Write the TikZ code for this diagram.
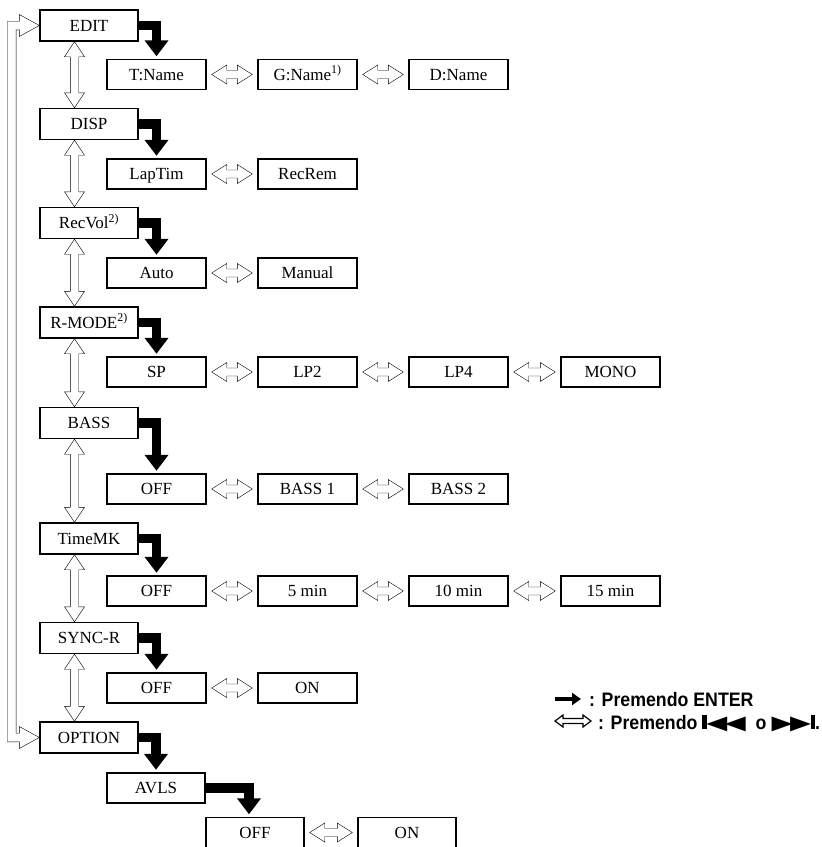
\documentclass[tikz,border=0pt]{standalone}
\usepackage{graphicx}
\usepackage{fontspec}
\setmainfont{Liberation Serif}
\newfontfamily\legendfont[FakeStretch=0.91]{Liberation Sans}
\newfontfamily\symfont{DejaVu Sans}
\usetikzlibrary{arrows.meta,calc}

% skip-back / skip-forward key symbols for the legend
\newcommand\prevsym{\rule{4.5pt}{14.5pt}\kern-0.5pt{\symfont\scalebox{1.4}[1]{◀}\kern-2.5pt\scalebox{1.4}[1]{◀}}}
\newcommand\nextsym{{\symfont\scalebox{1.4}[1]{▶}\kern-2.5pt\scalebox{1.4}[1]{▶}}\kern-0.5pt\rule{4.5pt}{14.5pt}}

\tikzset{
  menu/.style={draw, line width=1.4pt, minimum width=98pt, minimum height=31pt,
    inner sep=0pt, text height=11.3pt, text depth=0pt,
    font=\fontsize{17}{20}\selectfont},
  item/.style={menu, minimum width=99pt, minimum height=30pt},
  enter/.style={line width=9.5pt, line join=miter, shorten >=2.5pt,
    -{Triangle[length=16pt,width=23pt]}},
  % open vertical double arrow (start above target)
  vswap/.style={draw, line width=1.5pt, line join=miter,
    to path={let \p1=(\tikztostart), \p2=(\tikztotarget) in
      (\x1,\y1) -- (\x1+10pt,\y1-15pt) -- (\x1+4.2pt,\y1-15pt) -- (\x1+4.2pt,\y2+15pt)
      -- (\x1+10pt,\y2+15pt) -- (\x1,\y2) -- (\x1-10pt,\y2+15pt) -- (\x1-4.2pt,\y2+15pt)
      -- (\x1-4.2pt,\y1-15pt) -- (\x1-10pt,\y1-15pt) -- cycle}},
  % open horizontal double arrow between neighbouring items
  hswap/.style={draw, line width=1.5pt, line join=miter,
    to path={let \p1=(\tikztostart), \p2=(\tikztotarget) in
      (\x1+5pt,\y1) -- (\x1+20pt,\y1+9.5pt) -- (\x1+20pt,\y1+4pt) -- (\x2-20pt,\y1+4pt)
      -- (\x2-20pt,\y1+9.5pt) -- (\x2-5pt,\y1) -- (\x2-20pt,\y1-9.5pt) -- (\x2-20pt,\y1-4pt)
      -- (\x1+20pt,\y1-4pt) -- (\x1+20pt,\y1-9.5pt) -- cycle}},
  % open return loop from the last menu entry back to the first one
  loopswap/.style={draw, line width=1.4pt, line join=miter,
    to path={let \p1=(\tikztostart), \p2=(\tikztotarget) in
      (\x2,\y2) -- (\x2-20pt,\y2-11pt) -- (\x2-20pt,\y2-4.3pt) -- (\x2-23.2pt,\y2-4.3pt)
      -- (\x2-23.2pt,\y1+4.3pt) -- (\x2-20pt,\y1+4.3pt) -- (\x2-20pt,\y1+11pt)
      -- (\x2,\y1) -- (\x2-20pt,\y1-11pt) -- (\x2-20pt,\y1-4.3pt) -- (\x2-31.8pt,\y1-4.3pt)
      -- (\x2-31.8pt,\y2+4.3pt) -- (\x2-20pt,\y2+4.3pt) -- (\x2-20pt,\y2+11pt) -- cycle}},
  legend/.style={anchor=base west, inner sep=0pt,
    font=\fontsize{19.5}{22}\legendfont\bfseries}
}

\begin{document}
\begin{tikzpicture}[x=1pt, y=-1pt]
\useasboundingbox (0,0) rectangle (822,847);

% main menu column
\node[menu] (edit)   at (89,25.5)  {EDIT};
\node[menu] (disp)   at (89,124)   {DISP};
\node[menu] (recvol) at (89,223)   {RecVol\textsuperscript{2)}};
\node[menu] (rmode)  at (89,322.5) {R-MODE\textsuperscript{2)}};
\node[menu] (bass)   at (89,423)   {BASS};
\node[menu] (timemk) at (89,538.5) {TimeMK};
\node[menu] (sync)   at (89,638)   {SYNC-R};
\node[menu] (option) at (89,737.5) {OPTION};
\coordinate (spine) at (74.5,0);

% settings of each entry
\node[item] (tname) at (156.5,74.5) {T:Name};
\node[item] (gname) at (307.5,74.5) {G:Name\textsuperscript{1)}};
\node[item] (dname) at (458.5,74.5) {D:Name};

\node[item] (laptim) at (156.5,174) {LapTim};
\node[item] (recrem) at (307.5,174) {RecRem};

\node[item] (auto)   at (156.5,273) {Auto};
\node[item] (manual) at (307.5,273) {Manual};

\node[item] (sp)   at (156.5,372) {SP};
\node[item] (lptwo) at (307.5,372) {LP2};
\node[item] (lpfour) at (458.5,372) {LP4};
\node[item] (mono) at (610.5,372) {MONO};

\node[item] (bassoff) at (156.5,489) {OFF};
\node[item] (bassone) at (307.5,489) {BASS 1};
\node[item] (basstwo) at (458.5,489) {BASS 2};

\node[item] (tmoff)  at (156.5,591) {OFF};
\node[item] (tmfive) at (307.5,591) {5 min};
\node[item] (tmten)  at (458.5,591) {10 min};
\node[item] (tmfif)  at (610.5,591) {15 min};

\node[item] (syncoff) at (156.5,688) {OFF};
\node[item] (syncon)  at (307.5,688) {ON};

\node[menu, minimum height=30pt] (avls) at (156,788) {AVLS};
\node[item, minimum width=98pt] (avoff) at (255,832.5) {OFF};
\node[item, minimum width=98pt] (avon)  at (407,832.5) {ON};

% ENTER arrows
\draw[enter] (edit.east)   -| (tname.north);
\draw[enter] (disp.east)   -| (laptim.north);
\draw[enter] (recvol.east) -| (auto.north);
\draw[enter] (rmode.east)  -| (sp.north);
\draw[enter] (bass.east)   -| (bassoff.north);
\draw[enter] (timemk.east) -| (tmoff.north);
\draw[enter] (sync.east)   -| (syncoff.north);
\draw[enter] (option.east) -| (avls.north);
\draw[enter] (avls.east)   -| ([xshift=-6pt]avoff.north);

% stepping through the main menu
\draw (edit.south -| spine)   to[vswap] (disp.north -| spine);
\draw (disp.south -| spine)   to[vswap] (recvol.north -| spine);
\draw (recvol.south -| spine) to[vswap] (rmode.north -| spine);
\draw (rmode.south -| spine)  to[vswap] (bass.north -| spine);
\draw (bass.south -| spine)   to[vswap] (timemk.north -| spine);
\draw (timemk.south -| spine) to[vswap] (sync.north -| spine);
\draw (sync.south -| spine)   to[vswap] (option.north -| spine);
\draw (option.west) to[loopswap] (edit.west);

% stepping through the settings
\draw (tname.east) to[hswap] (gname.west);
\draw (gname.east) to[hswap] (dname.west);
\draw (laptim.east) to[hswap] (recrem.west);
\draw (auto.east) to[hswap] (manual.west);
\draw (sp.east) to[hswap] (lptwo.west);
\draw (lptwo.east) to[hswap] (lpfour.west);
\draw (lpfour.east) to[hswap] (mono.west);
\draw (bassoff.east) to[hswap] (bassone.west);
\draw (bassone.east) to[hswap] (basstwo.west);
\draw (tmoff.east) to[hswap] (tmfive.west);
\draw (tmfive.east) to[hswap] (tmten.west);
\draw (tmten.east) to[hswap] (tmfif.west);
\draw (syncoff.east) to[hswap] (syncon.west);
\draw (avoff.east) to[hswap] (avon.west);

% legend
\draw[line width=4.5pt, -{Triangle[length=9pt,width=12pt]}] (555,699) -- (581,699);
\node[legend] (lgenter) at (589,706) {: Premendo ENTER};
\draw[line width=1.2pt, line join=miter] (555,721) -- (563,715) -- (563,718.5) -- (583,718.5)
  -- (583,715) -- (591,721) -- (583,727) -- (583,723.5) -- (563,723.5) -- (563,727) -- cycle;
\node[legend] (lgskip) at (598,729) {: Premendo \prevsym\ \ o \nextsym.};
\end{tikzpicture}
\end{document}
